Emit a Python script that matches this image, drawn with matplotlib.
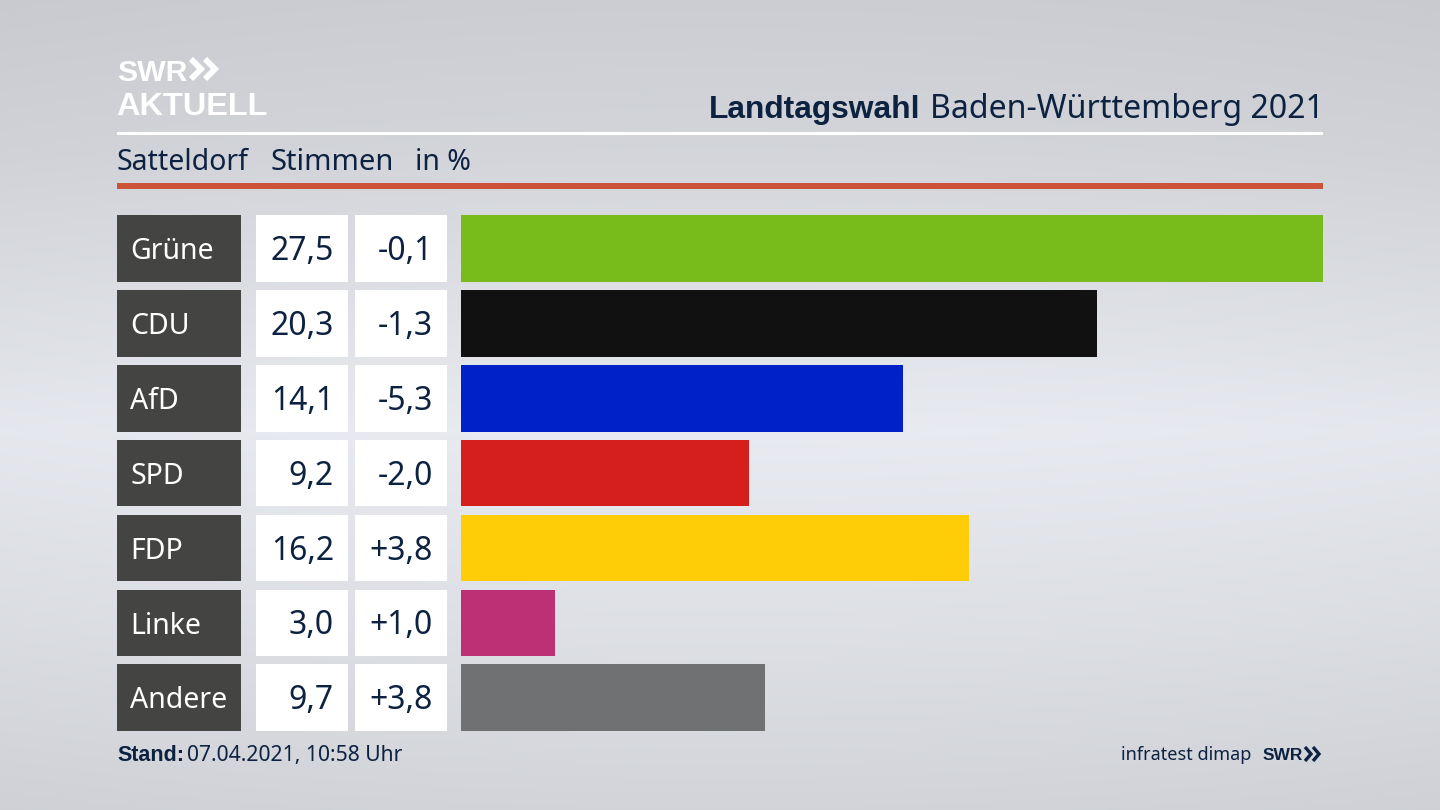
import matplotlib
matplotlib.use('Agg')
import matplotlib.pyplot as plt
import numpy as np
from matplotlib.patches import Rectangle

plt.rcParams['font.family'] = ['Noto Sans', 'DejaVu Sans']

parties = ['Grüne', 'CDU', 'AfD', 'SPD', 'FDP', 'Linke', 'Andere']
votes = [27.5, 20.3, 14.1, 9.2, 16.2, 3.0, 9.7]
changes = ['-0,1', '-1,3', '-5,3', '-2,0', '+3,8', '+1,0', '+3,8']
colours = ['#78BC1B', '#111111', '#0021C8', '#D51F1D', '#FFCC08', '#BD3075', '#707173']

navy = '#0D2240'
dark_box = '#444542'
bold_font = 'Liberation Sans'
row_pitch = 74.9
row_top = 215
box_height = 66.7

fig = plt.figure(figsize=(14.4, 8.1), dpi=100)

# background and everything that is not a bar, in pixel coordinates
bg = fig.add_axes([0, 0, 1, 1])
bg.set_xlim(0, 1440)
bg.set_ylim(810, 0)
bg.axis('off')

stops_y = [0, 150, 430, 620, 810]
stops_v = [0.81, 0.84, 0.925, 0.885, 0.835]
yy = np.interp(np.arange(810), stops_y, stops_v)
xx = 1 - 0.015 * np.abs(np.linspace(-1, 1, 1440)) ** 2
shade = np.outer(yy, xx)
rgb = np.dstack([shade * 0.985, shade * 0.995, shade * 1.02]).clip(0, 1)
bg.imshow(rgb, extent=(0, 1440, 810, 0), aspect='auto', zorder=0)

# logo
bg.text(117, 81, 'SWR', color='white', fontsize=21.8, family=bold_font, fontweight='bold', ha='left', va='baseline')
for x0 in [191, 205]:
    bg.plot([x0, x0 + 10, x0], [59, 69, 79], color='white', lw=4.2, solid_joinstyle='miter', solid_capstyle='butt')
bg.text(116, 115, 'AKTUELL', color='white', fontsize=23.4, family=bold_font, fontweight='bold', ha='left', va='baseline')

# title
bg.text(709, 118, 'Landtagswahl', color=navy, fontsize=22.9, family=bold_font, fontweight='bold', ha='left', va='baseline')
bg.text(930, 118, 'Baden-Württemberg 2021', color=navy, fontsize=23.1, ha='left', va='baseline')

bg.add_patch(Rectangle((117, 132), 1206, 3, color='white', lw=0))

# subtitle
bg.text(117, 170, 'Satteldorf', color=navy, fontsize=20.5, ha='left', va='baseline')
bg.text(271, 170, 'Stimmen', color=navy, fontsize=21, ha='left', va='baseline')
bg.text(415, 170, 'in %', color=navy, fontsize=20.5, ha='left', va='baseline')
bg.add_patch(Rectangle((117, 183), 1206, 6, color='#CC5238', lw=0))

# table columns
for i in range(len(parties)):
    top = row_top + i * row_pitch
    base = top + 44
    bg.add_patch(Rectangle((117, top), 124, box_height, color=dark_box, lw=0))
    bg.add_patch(Rectangle((256, top), 92, box_height, color='white', lw=0))
    bg.add_patch(Rectangle((355, top), 92, box_height, color='white', lw=0))
    bg.text(130, base, parties[i], color='white', fontsize=20.5, ha='left', va='baseline')
    bg.text(334, base + 1, ('%.1f' % votes[i]).replace('.', ','), color=navy, fontsize=23, ha='right', va='baseline')
    bg.text(433, base + 1, changes[i], color=navy, fontsize=23, ha='right', va='baseline')

# footer
bg.text(117, 761, 'Stand:', color=navy, fontsize=15.5, family=bold_font, fontweight='bold', ha='left', va='baseline')
bg.text(187, 761, '07.04.2021, 10:58 Uhr', color=navy, fontsize=15.2, ha='left', va='baseline')
bg.text(1251, 760, 'infratest dimap', color=navy, fontsize=13, ha='right', va='baseline')
bg.text(1263, 760, 'SWR', color=navy, fontsize=12.5, family=bold_font, fontweight='bold', ha='left', va='baseline')
for x0 in [1305, 1313]:
    bg.plot([x0, x0 + 6, x0], [747, 754, 761], color=navy, lw=2.4, solid_joinstyle='miter', solid_capstyle='butt')

# bars
ax = fig.add_axes([461 / 1440, 1 - (row_top + 6 * row_pitch + box_height) / 810,
                   862 / 1440, (6 * row_pitch + box_height) / 810])
ax.patch.set_alpha(0)
half = box_height / row_pitch / 2
ax.barh(range(len(parties)), votes, height=box_height / row_pitch, color=colours)
ax.set_xlim(0, 27.5)
ax.set_ylim(len(parties) - 1 + half, -half)
ax.axis('off')

fig.savefig('out.png', dpi=100)
